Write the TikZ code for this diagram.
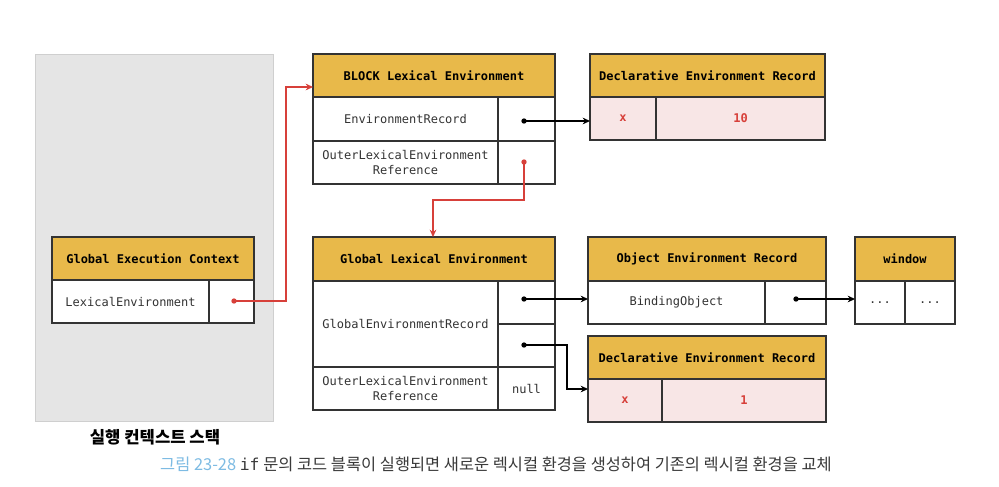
\documentclass[tikz,border=0pt]{standalone}
\usepackage{fontspec}
\setmainfont{Noto Sans CJK KR}
\setmonofont{DejaVu Sans Mono}
\newfontfamily\krfont{Noto Sans CJK KR}
\usetikzlibrary{arrows.meta}
\definecolor{hdr}{HTML}{E8B94A}
\definecolor{pinkc}{HTML}{F8E6E6}
\definecolor{redc}{HTML}{D7403A}
\definecolor{gbg}{HTML}{E5E5E5}
\definecolor{gbd}{HTML}{CFCFCF}
\definecolor{txt}{HTML}{333333}
\definecolor{capblue}{HTML}{7DBBE3}
\definecolor{captxt}{HTML}{3A3A3A}
\tikzset{
  cellbase/.style={draw=txt,line width=0.8pt,rectangle,inner sep=0pt,outer sep=0pt,align=center,font=\ttfamily\fontsize{9}{11}\selectfont,text=txt},
  headc/.style={fill=hdr,text=black,font=\ttfamily\bfseries\fontsize{9}{11}\selectfont},
  whitec/.style={fill=white},
  pinkcell/.style={fill=pinkc,text=redc,font=\ttfamily\bfseries\fontsize{9}{11}\selectfont},
  dot/.style={circle,fill=black,inner sep=0pt,minimum size=4pt},
  rdot/.style={circle,fill=redc,inner sep=0pt,minimum size=4pt},
  blk/.style={line width=0.9pt,-{Stealth[length=5.5pt,width=5pt]}},
  redl/.style={line width=0.9pt,draw=redc,-{Stealth[length=5.5pt,width=5pt]},color=redc},
}
\newcommand\cell[7][]{\node[cellbase,#1,minimum width={(#4-#2)*0.75pt},minimum height={(#5-#3)*0.75pt}] (#6) at ({(#2+#4)/2},{(#3+#5)/2}) {#7};}
\begin{document}
\begin{tikzpicture}[x=0.75pt,y=-0.75pt]
\useasboundingbox (0,0) rectangle (999,486);
\fill[white] (0,0) rectangle (999,486);
% stack panel
\node[draw=gbd,fill=gbg,line width=0.6pt,inner sep=0pt,minimum width={238*0.75pt},minimum height={367*0.75pt}] (stack) at (154,237.5) {};
% Global Execution Context
\cell[headc]{52}{237}{254}{280}{gech}{Global Execution Context}
\cell[whitec]{52}{280}{209}{323}{gecl}{LexicalEnvironment}
\cell[whitec]{209}{280}{254}{323}{gecv}{}
% BLOCK Lexical Environment
\cell[headc]{313}{54}{555}{97}{bh}{BLOCK Lexical Environment}
\cell[whitec]{313}{97}{498}{141}{bl1}{EnvironmentRecord}
\cell[whitec]{498}{97}{555}{141}{bv1}{}
\cell[whitec]{313}{141}{498}{184}{bl2}{OuterLexicalEnvironment\\Reference}
\cell[whitec]{498}{141}{555}{184}{bv2}{}
% Declarative top
\cell[headc]{590}{54}{825}{97}{dh1}{Declarative Environment Record}
\cell[pinkcell]{590}{97}{656}{140}{dx1}{x}
\cell[pinkcell]{656}{97}{825}{140}{dv1}{10}
% Global Lexical Environment
\cell[headc]{313}{237}{555}{281}{gh}{Global Lexical Environment}
\cell[whitec]{313}{281}{498}{367}{gl1}{GlobalEnvironmentRecord}
\cell[whitec]{498}{281}{555}{324}{gv1}{}
\cell[whitec]{498}{324}{555}{367}{gv2}{}
\cell[whitec]{313}{367}{498}{410}{gl2}{OuterLexicalEnvironment\\Reference}
\cell[whitec]{498}{367}{555}{410}{gv3}{null}
% Object Environment Record
\cell[headc]{588}{237}{826}{281}{oh}{Object Environment Record}
\cell[whitec]{588}{281}{765}{324}{ol}{BindingObject}
\cell[whitec]{765}{281}{826}{324}{ov}{}
% window
\cell[headc]{855}{237}{955}{281}{wh}{window}
\cell[whitec]{855}{281}{905}{324}{w1}{...}
\cell[whitec]{905}{281}{955}{324}{w2}{...}
% Declarative bottom
\cell[headc]{588}{336}{826}{379}{dh2}{Declarative Environment Record}
\cell[pinkcell]{588}{379}{662}{422}{dx2}{x}
\cell[pinkcell]{662}{379}{826}{422}{dv2}{1}
% dots
\node[rdot] (p1) at (234,301) {};
\node[rdot] (p2) at (524,162) {};
\node[dot] (p3) at (524,121) {};
\node[dot] (p4) at (524,299) {};
\node[dot] (p5) at (796,299) {};
\node[dot] (p6) at (524,345) {};
\coordinate (r1) at (286,87);
\coordinate (r2) at (433,200);
\coordinate (r3) at (567,389);
% connectors
\draw[redl] (p1.center) -| (r1) -- (r1 -| bh.west);
\draw[redl] (p2.center) |- (r2) -- (r2 |- gh.north);
\draw[blk] (p3.center) -- (p3 -| dx1.west);
\draw[blk] (p4.center) -- (p4 -| ol.west);
\draw[blk] (p5.center) -- (p5 -| w1.west);
\draw[blk] (p6.center) -| (r3) -- (r3 -| dx2.west);
% labels
\node[font=\krfont\bfseries\fontsize{12.5}{14}\selectfont,text=black,inner sep=0pt] (stacklbl) at (155,437) {실행 컨텍스트 스택};
\node[font=\krfont\fontsize{12.3}{14}\selectfont,text=captxt,inner sep=0pt] (cap) at (496,464) {\textcolor{capblue}{그림 23-28} {\ttfamily if} 문의 코드 블록이 실행되면 새로운 렉시컬 환경을 생성하여 기존의 렉시컬 환경을 교체};
\end{tikzpicture}
\end{document}
